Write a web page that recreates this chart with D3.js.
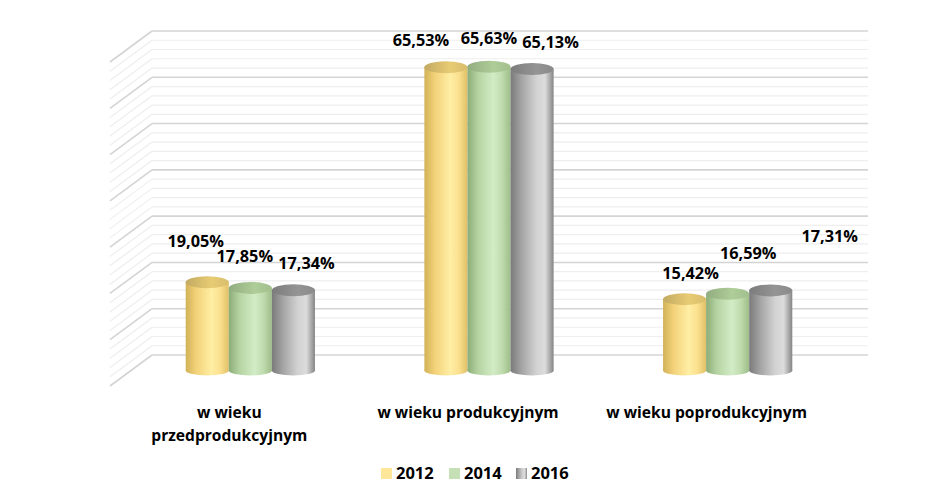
<!DOCTYPE html>
<html>
<head>
<meta charset="utf-8">
<script src="https://cdn.jsdelivr.net/npm/d3@7"></script>
<style>
  body { margin: 0; background: #fff; }
  svg text { font-family: "Open Sans", sans-serif; font-weight: bold; fill: #000; }
</style>
</head>
<body>
<div id="chart"></div>
<script>
// Data
const categories = ["w wieku przedprodukcyjnym", "w wieku produkcyjnym", "w wieku poprodukcyjnym"];
const categoryLines = [["w wieku", "przedprodukcyjnym"], ["w wieku produkcyjnym"], ["w wieku poprodukcyjnym"]];
const years = ["2012", "2014", "2016"];
const values2012 = [19.05, 65.53, 15.42];
const values2014 = [17.85, 65.63, 16.59];
const values2016 = [17.34, 65.13, 17.31];
const valueLabels2012 = ["19,05%", "65,53%", "15,42%"];
const valueLabels2014 = ["17,85%", "65,63%", "16,59%"];
const valueLabels2016 = ["17,34%", "65,13%", "17,31%"];

const series = [values2012, values2014, values2016];
const seriesLabels = [valueLabels2012, valueLabels2014, valueLabels2016];

// Layout
const W = 942, H = 503;
const wall = { left: 152, right: 868, top: 31, bottom: 355 };
const depth = { dx: -42, dy: 31 };     // full floor depth
const barDepth = { dx: -21, dy: 15.5 }; // cylinders sit half way
// label nudges (px) relative to top centre of each cylinder, [category][year]
const labelNudge = [
  [[-11.5, -41], [-5.5, -31.5], [13, -27.5]],
  [[-25, -27], [0, -29], [18.5, -27.5]],
  [[6, -26.5], [20.5, -41], [59, -54.5]]
];

const styles = [
  { stops: ["#d2b257", "#f3d27a", "#ffeea4", "#fbe08e", "#e0c068"], top: "#d8bd6c", swatch: "#ffe699" },
  { stops: ["#8bac77", "#b5d4a2", "#d2ecc6", "#c0dcae", "#9dbd89"], top: "#a2bf8e", swatch: "#c5e0b4" },
  { stops: ["#7a7a7a", "#a3a3a3", "#d2d2d2", "#dcdcdc", "#858585"], top: "#8a8a8a", swatch: "#a6a6a6" }
];

const svg = d3.select("#chart").append("svg")
  .attr("width", W).attr("height", H);

const defs = svg.append("defs");
styles.forEach((s, i) => {
  const g = defs.append("linearGradient").attr("id", "body" + i)
    .attr("x1", "0%").attr("x2", "100%").attr("y1", "0%").attr("y2", "0%");
  const offs = [0, 0.25, 0.6, 0.8, 1];
  s.stops.forEach((c, k) => g.append("stop").attr("offset", offs[k]).attr("stop-color", c));
  const t = defs.append("linearGradient").attr("id", "top" + i)
    .attr("x1", "0%").attr("x2", "100%");
  t.append("stop").attr("offset", 0).attr("stop-color", d3.color(s.top).darker(0.3));
  t.append("stop").attr("offset", 0.6).attr("stop-color", d3.color(s.top).brighter(0.2));
  t.append("stop").attr("offset", 1).attr("stop-color", s.top);
});

// Scales
const y = d3.scaleLinear().domain([0, 70]).range([wall.bottom, wall.top]);
const x0 = d3.scaleBand().domain(categories).range([wall.left, wall.right]);
const x1 = d3.scaleBand().domain(years).range([0, x0.bandwidth()]).paddingInner(0).paddingOuter(1.27);

// Gridlines: back wall + left wall
const ticks = d3.range(0, 71, 2);
const grid = svg.append("g");
ticks.forEach(t => {
  const major = t % 10 === 0;
  const col = major ? "#d4d4d4" : "#eeeeee";
  const w = major ? 1.6 : 1.2;
  grid.append("line")
    .attr("x1", wall.left).attr("x2", wall.right)
    .attr("y1", y(t)).attr("y2", y(t))
    .attr("stroke", col).attr("stroke-width", w);
  grid.append("line")
    .attr("x1", wall.left).attr("x2", wall.left + depth.dx)
    .attr("y1", y(t)).attr("y2", y(t) + depth.dy)
    .attr("stroke", col).attr("stroke-width", w);
});

// Cylinders
const bars = svg.append("g");
const ryTop = 6, ryBase = 5;
categories.forEach((c, ci) => {
  years.forEach((yr, si) => {
    const v = series[si][ci];
    const bx = x0(c) + x1(yr) + barDepth.dx;
    const bw = x1.bandwidth();
    const cx = bx + bw / 2;
    const baseY = y(0) + barDepth.dy;
    const topY = y(v) + barDepth.dy;
    const g = bars.append("g");
    g.append("ellipse")
      .attr("cx", cx).attr("cy", baseY).attr("rx", bw / 2).attr("ry", ryBase)
      .attr("fill", `url(#body${si})`);
    g.append("rect")
      .attr("x", bx).attr("y", topY).attr("width", bw).attr("height", baseY - topY)
      .attr("fill", `url(#body${si})`);
    g.append("ellipse")
      .attr("cx", cx).attr("cy", topY).attr("rx", bw / 2).attr("ry", ryTop)
      .attr("fill", `url(#top${si})`);
  });
});

// Value labels
const labels = svg.append("g").attr("font-size", 16.3).attr("text-anchor", "middle");
categories.forEach((c, ci) => {
  years.forEach((yr, si) => {
    const v = series[si][ci];
    const cx = x0(c) + x1(yr) + barDepth.dx + x1.bandwidth() / 2;
    const topY = y(v) + barDepth.dy;
    const [dx, dy] = labelNudge[ci][si];
    labels.append("text")
      .attr("x", cx + dx).attr("y", topY + dy + 6)
      .text(seriesLabels[si][ci]);
  });
});

// Category labels, centred on the front edge of the floor
const cats = svg.append("g").attr("font-size", 15.6).attr("text-anchor", "middle");
categories.forEach((c, ci) => {
  const cx = x0(c) + x0.bandwidth() / 2 + depth.dx;
  categoryLines[ci].forEach((line, li) => {
    cats.append("text").attr("x", cx).attr("y", 418 + li * 22.5).text(line);
  });
});

// Legend
const legend = svg.append("g").attr("font-size", 16.5);
const legendX = [381, 449, 516];
years.forEach((yr, i) => {
  legend.append("rect")
    .attr("x", legendX[i]).attr("y", 468).attr("width", 11).attr("height", 11)
    .attr("fill", i === 2 ? `url(#body2)` : styles[i].swatch);
  legend.append("text").attr("x", legendX[i] + 15).attr("y", 479).text(yr);
});
</script>
</body>
</html>
